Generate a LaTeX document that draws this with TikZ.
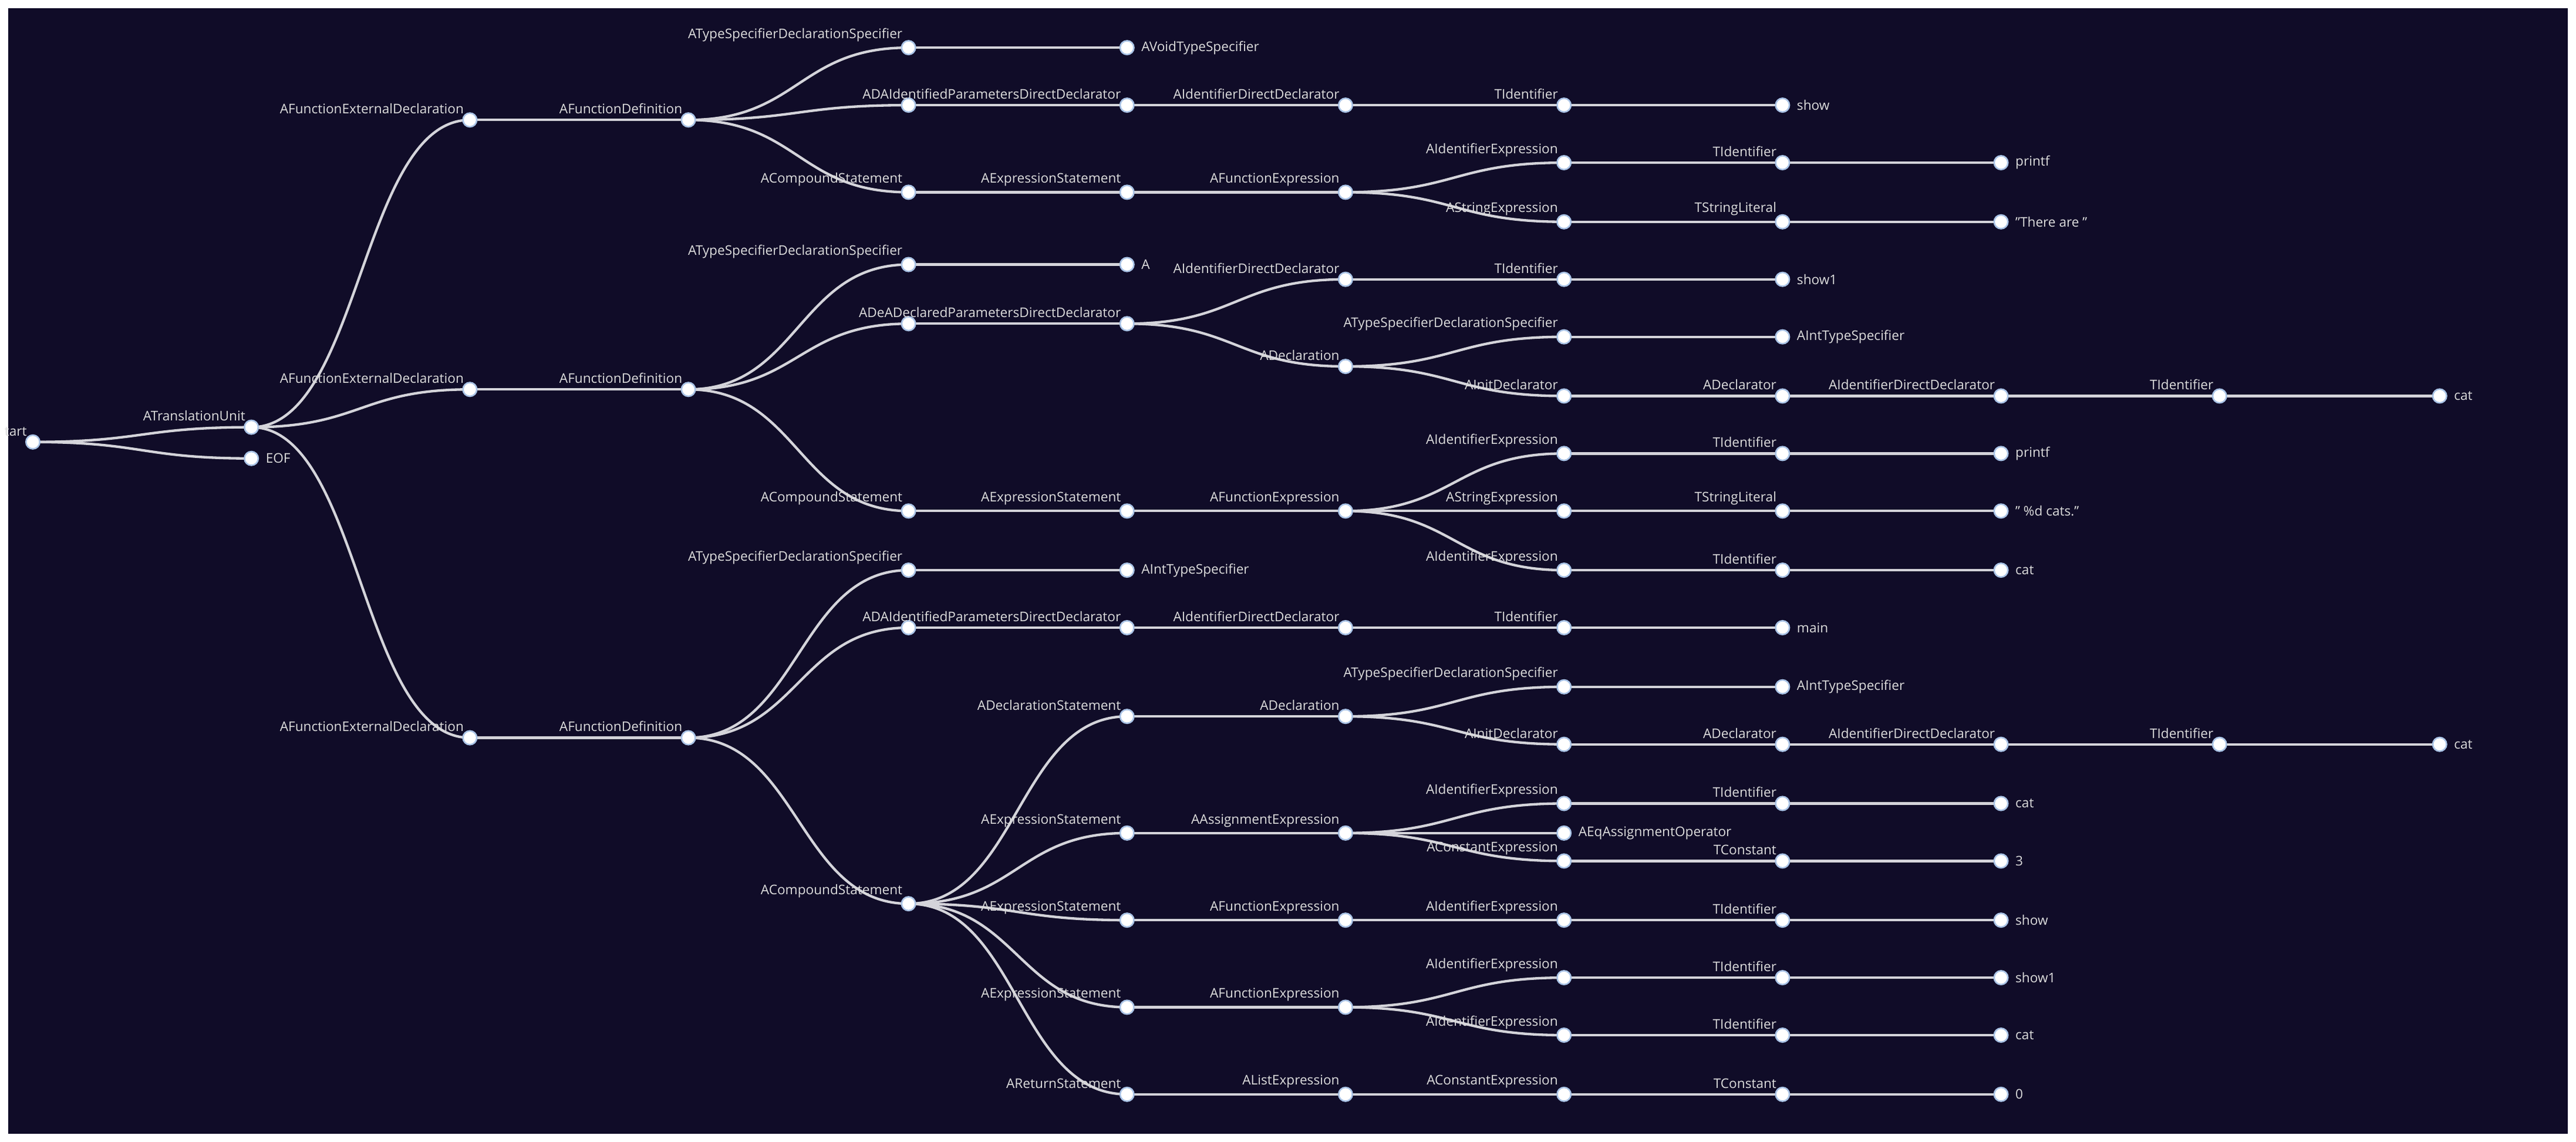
\documentclass[tikz,border=0pt]{standalone}
\usepackage{fontspec}
\setmainfont{Open Sans}
\usepackage{tikz}
\usetikzlibrary{calc}
\definecolor{bgnavy}{HTML}{100C28}
\definecolor{edgegray}{HTML}{D4D4DA}
\definecolor{dotblue}{HTML}{A9C3E6}
\definecolor{txtgray}{HTML}{DCDCDC}
\pgfdeclarelayer{bg}
\pgfsetlayers{bg,main}
\tikzset{
  dot/.style={circle, fill=white, draw=dotblue, line width=1.3pt, minimum size=0.42cm, inner sep=0pt},
  lbl/.style={font=\fontsize{11.5}{13}\selectfont, text=txtgray, inner sep=0pt},
  in/.style={dot, label={[lbl, anchor=south east, label distance=0.02cm]north west:#1}},
  lf/.style={dot, label={[lbl, anchor=west, label distance=0.2cm]right:#1}},
  edge/.style={draw=edgegray, line width=2.2pt}
}
\newcommand{\lnk}[2]{\draw[edge] let \p1=(#1), \p2=(#2) in (#1.center) .. controls ({0.5*\x1+0.5*\x2},\y1) and ({0.5*\x1+0.5*\x2},\y2) .. (#2.center);}
\begin{document}
\begin{tikzpicture}[x=0.05cm, y=-0.05cm]
        % Nodes
        \node (st) [in=tart] at (20,269) {};
        \node (tu) [in=ATranslationUnit] at (153,260) {};
        \node (eof) [lf=EOF] at (153,279) {};
        % first function
        \node (fa) [in=AFunctionExternalDeclaration] at (286,73) {};
        \node (fa1) [in=AFunctionDefinition] at (419,73) {};
        \node (fa2) [in=ATypeSpecifierDeclarationSpecifier] at (553,29) {};
        \node (fa3) [lf=AVoidTypeSpecifier] at (686,29) {};
        \node (fa4) [dot] at (553,64) {};
        \node (fa5) [in=ADAIdentifiedParametersDirectDeclarator] at (686,64) {};
        \node (fa6) [in=AIdentifierDirectDeclarator] at (819,64) {};
        \node (fa7) [in=TIdentifier] at (952,64) {};
        \node (fa8) [lf=show] at (1085,64) {};
        \node (fa9) [in=ACompoundStatement] at (553,117) {};
        \node (fa10) [in=AExpressionStatement] at (686,117) {};
        \node (fa11) [in=AFunctionExpression] at (819,117) {};
        \node (fa12) [in=AIdentifierExpression] at (952,99) {};
        \node (fa13) [in=TIdentifier] at (1085,99) {};
        \node (fa14) [lf=printf] at (1218,99) {};
        \node (fa15) [in=AStringExpression] at (952,135) {};
        \node (fa16) [in=TStringLiteral] at (1085,135) {};
        \node (fa17) [lf={"There are "}] at (1218,135) {};
        % second function
        \node (fb) [in=AFunctionExternalDeclaration] at (286,237) {};
        \node (fb1) [in=AFunctionDefinition] at (419,237) {};
        \node (fb2) [in=ATypeSpecifierDeclarationSpecifier] at (553,161) {};
        \node (fb3) [lf=A] at (686,161) {};
        \node (fb4) [dot] at (553,197) {};
        \node (fb5) [in=ADeADeclaredParametersDirectDeclarator] at (686,197) {};
        \node (fb6) [in=AIdentifierDirectDeclarator] at (819,170) {};
        \node (fb7) [in=TIdentifier] at (952,170) {};
        \node (fb8) [lf=show1] at (1085,170) {};
        \node (fb9) [in=ADeclaration] at (819,223) {};
        \node (fb10) [in=ATypeSpecifierDeclarationSpecifier] at (952,205) {};
        \node (fb11) [lf=AIntTypeSpecifier] at (1085,205) {};
        \node (fb12) [in=AInitDeclarator] at (952,241) {};
        \node (fb13) [in=ADeclarator] at (1085,241) {};
        \node (fb14) [in=AIdentifierDirectDeclarator] at (1218,241) {};
        \node (fb15) [in=TIdentifier] at (1351,241) {};
        \node (fb16) [lf=cat] at (1485,241) {};
        \node (fb17) [in=ACompoundStatement] at (553,311) {};
        \node (fb18) [in=AExpressionStatement] at (686,311) {};
        \node (fb19) [in=AFunctionExpression] at (819,311) {};
        \node (fb20) [in=AIdentifierExpression] at (952,276) {};
        \node (fb21) [in=TIdentifier] at (1085,276) {};
        \node (fb22) [lf=printf] at (1218,276) {};
        \node (fb23) [in=AStringExpression] at (952,311) {};
        \node (fb24) [in=TStringLiteral] at (1085,311) {};
        \node (fb25) [lf={" \%d cats."}] at (1218,311) {};
        \node (fb26) [in=AIdentifierExpression] at (952,347) {};
        \node (fb27) [in=TIdentifier] at (1085,347) {};
        \node (fb28) [lf=cat] at (1218,347) {};
        % main
        \node (fc) [in=AFunctionExternalDeclaration] at (286,449) {};
        \node (fc1) [in=AFunctionDefinition] at (419,449) {};
        \node (fc2) [in=ATypeSpecifierDeclarationSpecifier] at (553,347) {};
        \node (fc3) [lf=AIntTypeSpecifier] at (686,347) {};
        \node (fc4) [dot] at (553,382) {};
        \node (fc5) [in=ADAIdentifiedParametersDirectDeclarator] at (686,382) {};
        \node (fc6) [in=AIdentifierDirectDeclarator] at (819,382) {};
        \node (fc7) [in=TIdentifier] at (952,382) {};
        \node (fc8) [lf=main] at (1085,382) {};
        \node (fc9) [in=ACompoundStatement] at (553,550) {};
        \node (fc10) [in=ADeclarationStatement] at (686,436) {};
        \node (fc11) [in=ADeclaration] at (819,436) {};
        \node (fc12) [in=ATypeSpecifierDeclarationSpecifier] at (952,418) {};
        \node (fc13) [lf=AIntTypeSpecifier] at (1085,418) {};
        \node (fc14) [in=AInitDeclarator] at (952,453) {};
        \node (fc15) [in=ADeclarator] at (1085,453) {};
        \node (fc16) [in=AIdentifierDirectDeclarator] at (1218,453) {};
        \node (fc17) [in=TIdentifier] at (1351,453) {};
        \node (fc18) [lf=cat] at (1485,453) {};
        \node (fc19) [in=AExpressionStatement] at (686,507) {};
        \node (fc20) [in=AAssignmentExpression] at (819,507) {};
        \node (fc21) [in=AIdentifierExpression] at (952,489) {};
        \node (fc22) [in=TIdentifier] at (1085,489) {};
        \node (fc23) [lf=cat] at (1218,489) {};
        \node (fc24) [lf=AEqAssignmentOperator] at (952,507) {};
        \node (fc25) [in=AConstantExpression] at (952,524) {};
        \node (fc26) [in=TConstant] at (1085,524) {};
        \node (fc27) [lf=3] at (1218,524) {};
        \node (fc28) [in=AExpressionStatement] at (686,560) {};
        \node (fc29) [in=AFunctionExpression] at (819,560) {};
        \node (fc30) [in=AIdentifierExpression] at (952,560) {};
        \node (fc31) [in=TIdentifier] at (1085,560) {};
        \node (fc32) [lf=show] at (1218,560) {};
        \node (fc33) [in=AExpressionStatement] at (686,613) {};
        \node (fc34) [in=AFunctionExpression] at (819,613) {};
        \node (fc35) [in=AIdentifierExpression] at (952,595) {};
        \node (fc36) [in=TIdentifier] at (1085,595) {};
        \node (fc37) [lf=show1] at (1218,595) {};
        \node (fc38) [in=AIdentifierExpression] at (952,630) {};
        \node (fc39) [in=TIdentifier] at (1085,630) {};
        \node (fc40) [lf=cat] at (1218,630) {};
        \node (fc41) [in=AReturnStatement] at (686,666) {};
        \node (fc42) [in=AListExpression] at (819,666) {};
        \node (fc43) [in=AConstantExpression] at (952,666) {};
        \node (fc44) [in=TConstant] at (1085,666) {};
        \node (fc45) [lf=0] at (1218,666) {};

        % Links
        \begin{pgfonlayer}{bg}
        \fill[white] (0,0) rectangle (1568,695);
        \fill[bgnavy] (5,5) rectangle (1563,690);
        \lnk{st}{tu} \lnk{st}{eof}
        \foreach \c in {fa,fb,fc} {\lnk{tu}{\c} \lnk{\c}{\c1}}
        \foreach \a/\b in {fa1/fa2, fa2/fa3, fa1/fa4, fa4/fa5, fa5/fa6, fa6/fa7, fa7/fa8,
            fa1/fa9, fa9/fa10, fa10/fa11, fa11/fa12, fa12/fa13, fa13/fa14, fa11/fa15, fa15/fa16, fa16/fa17,
            fb1/fb2, fb2/fb3, fb1/fb4, fb4/fb5, fb5/fb6, fb6/fb7, fb7/fb8, fb5/fb9, fb9/fb10, fb10/fb11,
            fb9/fb12, fb12/fb13, fb13/fb14, fb14/fb15, fb15/fb16, fb1/fb17, fb17/fb18, fb18/fb19,
            fb19/fb20, fb20/fb21, fb21/fb22, fb19/fb23, fb23/fb24, fb24/fb25, fb19/fb26, fb26/fb27, fb27/fb28,
            fc1/fc2, fc2/fc3, fc1/fc4, fc4/fc5, fc5/fc6, fc6/fc7, fc7/fc8, fc1/fc9, fc9/fc10, fc10/fc11,
            fc11/fc12, fc12/fc13, fc11/fc14, fc14/fc15, fc15/fc16, fc16/fc17, fc17/fc18,
            fc9/fc19, fc19/fc20, fc20/fc21, fc21/fc22, fc22/fc23, fc20/fc24, fc20/fc25, fc25/fc26, fc26/fc27,
            fc9/fc28, fc28/fc29, fc29/fc30, fc30/fc31, fc31/fc32, fc9/fc33, fc33/fc34, fc34/fc35, fc35/fc36,
            fc36/fc37, fc34/fc38, fc38/fc39, fc39/fc40, fc9/fc41, fc41/fc42, fc42/fc43, fc43/fc44, fc44/fc45}
            {\lnk{\a}{\b}}
        \end{pgfonlayer}
\end{tikzpicture}
\end{document}
